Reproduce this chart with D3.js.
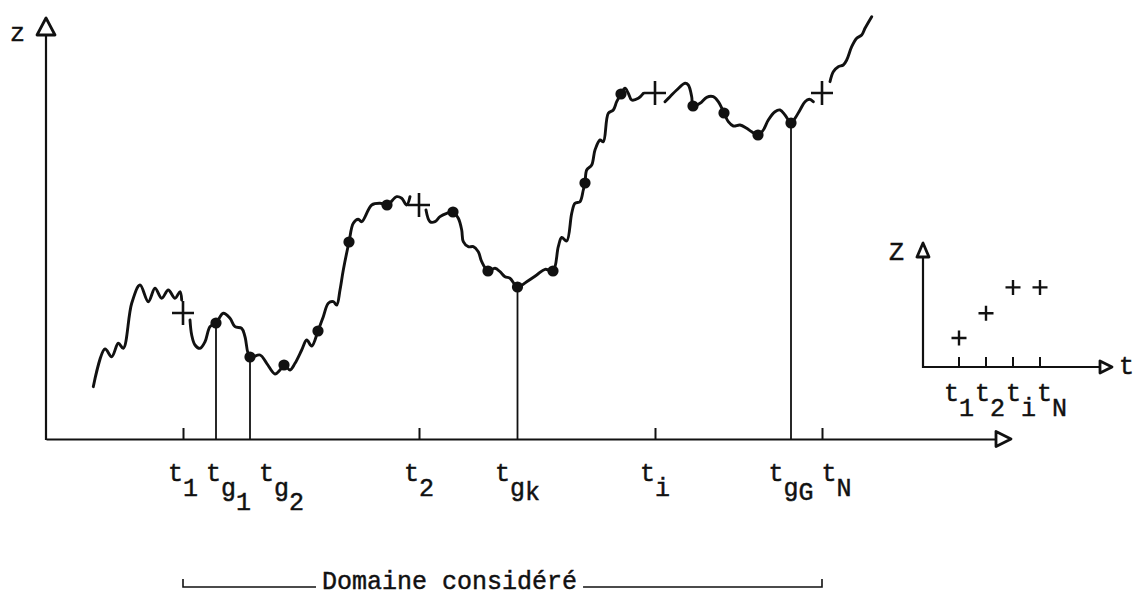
<!DOCTYPE html>
<html>
<head>
<meta charset="utf-8">
<script src="https://cdn.jsdelivr.net/npm/d3@7/dist/d3.min.js"></script>
<style>
  html, body { margin: 0; background: #fff; }
  svg { display: block; }
  text { font-family: "Liberation Mono", "Courier New", monospace; fill: #111; stroke: #111; stroke-width: 0.45px; }
</style>
</head>
<body>
<svg id="fig" width="1136" height="596"></svg>
<script>
// z(t) record, traced as [t, z] samples; null lifts the pen around a sampling cross
const signal = [
  [47.3,52.3],[59,90],[65.7,82.3],[72.3,95.7],[77.3,90.7],[85.7,135.7],[94,154],[102.3,137.3],
  [109,150.7],[115.7,140.7],[122.3,149],[129,140.7],[134,147.3],[135.7,139],
  null,
  [144,119],[145.7,104],[149,94],[154,90.7],[159,97.3],[164,112.3],[170,116],[177.3,125.7],
  [184,120.7],[189,112.3],[195.7,110.7],[199,102.3],[204,82],[214,84],[220.7,75.7],[229,65],
  [234,69],[238,74],[244,69],[249,75.7],[255.7,89],[260.7,99],[265.7,93],[272,108],[277.3,122.3],
  [282.3,135.7],[287.3,137.3],[290.7,134],[294,149],[297.3,169],[303,197],[307.3,215.7],
  [312.3,219.7],[315.7,217.3],[325.7,234],[334,235.7],[341,234],[350.7,242.3],[355.7,240.7],
  [360.7,234],[364,242.3],
  null,
  [380,229],[384,217.3],[389,217.3],[394,222.3],[400.7,225.7],[407,227],[412.3,220.7],[415.7,209],
  [417.3,197.3],[422.3,192.3],[427.3,192.3],[432.3,187.3],[435.7,177.3],[442,168],[449,170.7],
  [454,167.3],[459,162.3],[464,160.7],[471.5,152],[480.7,157.3],[490.7,164],[499,169.7],[507,168],
  [512.3,192.3],[515.7,201.5],[520.7,198],[525.7,225.7],[529,235.7],[534,237.3],[537.3,249],
  [539,256],[540.7,269],[545.7,274],[549,289],[554,299],[557.3,297.3],[562.3,325.7],[567.3,329],
  [570.7,337.3],[575,345],[579,350.7],[582.3,345.7],[585.7,339],[592.3,340.7],[597.3,345.7],
  null,
  [619,337.3],[624,342.3],[630.7,349],[639,355.7],[642.3,354],[645.7,342.3],[647,333],[654,335.7],
  [660.7,341.7],[667.3,342.3],[672.3,337.3],[678,326],[682.3,317.3],[687.3,313],[694,314],
  [700.7,310.7],[705.7,307.3],[712,304],[717.3,309],[722.3,319],[729,327.3],[734,329],[739,324],
  [745,316],[749,320.7],[754,329],[759,337.3],[763.3,339.7],[767.3,337.3],
  null,
  [784,357.3],[787.3,367.3],[792.3,372.3],[797.3,374],[800.7,379],[805.7,392.3],[810.7,400.7],
  [815.7,404],[819,410.7],[825.7,422.3]
];

// regular sampling instants t1, t2, ti, tN (crosses)
const sampleNames = ["1", "2", "i", "N"];
const sampleTimes = [137, 373, 609, 776];
const sampleValues = [126, 234, 346, 346];

// gauge instants t_g carried down to the time axis
const gaugeNames = ["1", "2", "k", "G"];
const gaugeTimes = [170, 204, 471.5, 745];
const gaugeValues = [116, 82, 152, 316];

// remaining gauge readings along the record
const dotTimes = [238, 272, 303, 341, 407, 442, 507, 539, 575, 647, 678, 712];
const dotValues = [74, 108, 197, 234, 227, 168, 168, 256, 345, 333, 326, 304];

const domainLabel = "Domaine considéré";

const svg = d3.select("#fig");
const ink = "#111";
const FS = 25;

const x = d3.scaleLinear().domain([0, 950]).range([46, 996]);
const y = d3.scaleLinear().domain([0, 430]).range([439, 9]);

function triangle(g, pts) {
  g.append("path")
    .attr("d", "M" + pts.map(p => p.join(",")).join("L") + "Z")
    .attr("fill", "#fff").attr("stroke", ink).attr("stroke-width", 2.8)
    .attr("stroke-linejoin", "round");
}
function cross(g, cx, cy, w, h, sw) {
  g.append("path")
    .attr("d", `M${cx - w / 2},${cy}H${cx + w / 2}M${cx},${cy - h / 2}V${cy + h / 2}`)
    .attr("stroke", ink).attr("stroke-width", sw).attr("fill", "none");
}
// subscripts: digits drop a full step, letters sit only slightly lower
const subDrop = p => (/\d/.test(p) ? 14 : 4);

// lay labels out left to right: centred on their anchor, pushed right on collision
function spread(sel, anchorOf, gap) {
  let lastRight = -Infinity;
  sel.each(function (d) {
    const w = this.getBBox().width;
    let left = anchorOf(d) - w / 2;
    if (left < lastRight + gap) left = lastRight + gap;
    d3.select(this).attr("x", left);
    lastRight = left + w;
  });
}

// ---- main axes ----
const axisG = svg.append("g").attr("transform", `translate(0,${y(0)})`)
  .call(d3.axisBottom(x).tickValues(sampleTimes).tickSize(-11).tickSizeOuter(0).tickFormat(""));
axisG.select(".domain").attr("stroke", ink).attr("stroke-width", 2.2);
axisG.selectAll(".tick line").attr("stroke", ink).attr("stroke-width", 2);

svg.append("line").attr("x1", x(0)).attr("x2", x(0)).attr("y1", y(0) + 1).attr("y2", 36)
  .attr("stroke", ink).attr("stroke-width", 2.2);
triangle(svg, [[x(0), 18], [x(0) - 9, 35], [x(0) + 9, 35]]);
triangle(svg, [[x(950) + 15, y(0)], [x(950), y(0) - 7.5], [x(950), y(0) + 7.5]]);
svg.append("text").attr("x", 10).attr("y", 41).attr("font-size", FS).text("z");

// ---- drop lines from gauge readings ----
svg.selectAll("line.drop").data(gaugeTimes).join("line").attr("class", "drop")
  .attr("x1", d => x(d)).attr("x2", d => x(d))
  .attr("y1", (d, i) => y(gaugeValues[i])).attr("y2", y(0))
  .attr("stroke", ink).attr("stroke-width", 1.8);

// ---- the record ----
const line = d3.line().defined(d => d !== null)
  .x(d => x(d[0])).y(d => y(d[1]))
  .curve(d3.curveCatmullRom.alpha(0.5));
svg.append("path").datum(signal).attr("d", line)
  .attr("fill", "none").attr("stroke", ink).attr("stroke-width", 2.9)
  .attr("stroke-linecap", "round").attr("stroke-linejoin", "round");

// ---- gauge dots ----
const allDots = dotTimes.map((t, i) => [t, dotValues[i]])
  .concat(gaugeTimes.map((t, i) => [t, gaugeValues[i]]));
svg.selectAll("circle.g").data(allDots).join("circle").attr("class", "g")
  .attr("cx", d => x(d[0])).attr("cy", d => y(d[1])).attr("r", 5.6).attr("fill", ink);

// ---- sampling crosses ----
sampleTimes.forEach((t, i) => cross(svg, x(t), y(sampleValues[i]), 22, 24, 2.6));

// ---- time labels under the axis ----
const labelItems = sampleTimes.map((t, i) => ({ t, parts: ["t", sampleNames[i]] }))
  .concat(gaugeTimes.map((t, i) => ({ t, parts: ["t", "g", gaugeNames[i]] })))
  .sort((a, b) => a.t - b.t);

const labels = svg.selectAll("text.tl").data(labelItems).join("text").attr("class", "tl")
  .attr("font-size", FS).attr("y", 481);
labels.each(function (d) {
  const el = d3.select(this);
  el.append("tspan").text(d.parts[0]);
  d.parts.slice(1).forEach((p, k) => {
    el.append("tspan").attr("dy", k === 0 ? 15 : subDrop(p)).text(p);
  });
});
spread(labels, d => x(d.t), 8);

// ---- inset: the regular samples alone ----
const xi = d3.scalePoint().domain(sampleNames).range([959, 1040]);
const yi = d3.scaleLinear().domain([0, 400]).range([367, 275]);
const inset = svg.append("g");
inset.append("line").attr("x1", 923).attr("x2", 923).attr("y1", yi(0) + 1).attr("y2", 258)
  .attr("stroke", ink).attr("stroke-width", 2.2);
inset.append("line").attr("x1", 922).attr("x2", 1100).attr("y1", yi(0)).attr("y2", yi(0))
  .attr("stroke", ink).attr("stroke-width", 2.2);
triangle(inset, [[923, 243], [917, 257], [929, 257]]);
triangle(inset, [[1112, yi(0)], [1100, yi(0) - 6], [1100, yi(0) + 6]]);
inset.selectAll("line.it").data(sampleNames).join("line").attr("class", "it")
  .attr("x1", d => xi(d)).attr("x2", d => xi(d)).attr("y1", yi(0)).attr("y2", yi(0) - 10)
  .attr("stroke", ink).attr("stroke-width", 2);
sampleNames.forEach((n, i) => cross(inset, xi(n), yi(sampleValues[i]), 15, 15, 2.4));
inset.append("text").attr("x", 889).attr("y", 260).attr("font-size", FS).text("Z");
inset.append("text").attr("x", 1119).attr("y", 374).attr("font-size", FS).text("t");
const insetLabels = inset.selectAll("text.il").data(sampleNames).join("text").attr("class", "il")
  .attr("font-size", FS).attr("y", 401)
  .each(function (n) {
    const el = d3.select(this);
    el.append("tspan").text("t");
    el.append("tspan").attr("dy", 15).text(n);
  });
spread(insetLabels, n => xi(n), 1);

// ---- extent of the studied domain ----
const bY = 587;
const bx0 = x(sampleTimes[0]), bx1 = x(sampleTimes[sampleTimes.length - 1]);
const dText = svg.append("text").attr("font-size", FS).attr("y", bY + 2).attr("x", 322).text(domainLabel);
const tw = dText.node().getBBox().width;
svg.append("path")
  .attr("d", `M${bx0},${bY - 8}V${bY}H${322 - 6}M${322 + tw + 6},${bY}H${bx1}V${bY - 8}`)
  .attr("fill", "none").attr("stroke", ink).attr("stroke-width", 1.6);
</script>
</body>
</html>
